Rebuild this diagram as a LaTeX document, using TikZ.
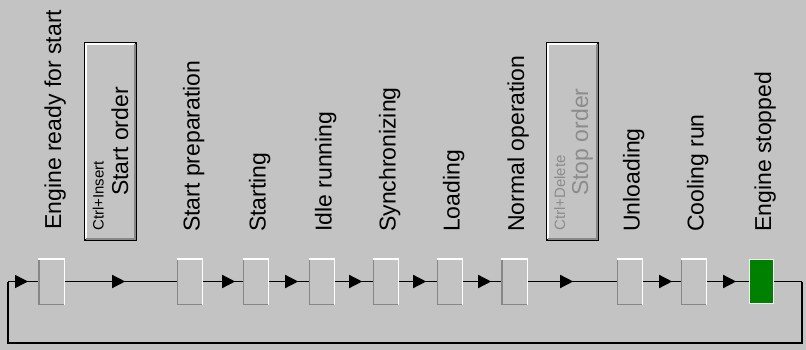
\documentclass[tikz,border=0pt]{standalone}
\usepackage{fontspec}
\setmainfont{Liberation Sans}
\usetikzlibrary{arrows.meta,decorations.markings}
\definecolor{bg}{RGB}{195,195,195}
\definecolor{shade}{RGB}{135,135,135}
\definecolor{dimtext}{RGB}{140,140,140}
\definecolor{run}{RGB}{0,128,0}
\begin{document}
\begin{tikzpicture}[x=1pt,y=-1pt,
  stepbox/.style={minimum width=26pt,minimum height=46pt,inner sep=0pt,fill=bg},
  activebox/.style={minimum width=24pt,minimum height=44pt,inner sep=0pt,fill=run,draw=white!80!bg,line width=1.5pt},
  orderbox/.style={minimum width=51pt,minimum height=197pt,inner sep=0pt,fill=bg,draw=black,line width=1.2pt},
  lightedge/.style={draw=white,line width=1.2pt},
  darkedge/.style={draw=shade,line width=1.2pt},
  lbl/.style={rotate=90,anchor=base west,inner sep=0pt,font=\fontsize{23}{26}\selectfont},
  keylbl/.style={rotate=90,anchor=base west,inner sep=0pt,font=\fontsize{15}{17}\selectfont},
  flow/.style={draw,black,line width=1.4pt},
  arr/.style={postaction={decorate},decoration={markings,mark=at position #1 with {\arrow{Triangle[length=13pt,width=13pt]}}}}
]
\useasboundingbox (0,0) rectangle (806,350);
\fill[bg] (0,0) rectangle (806,350);

% step boxes
\node[stepbox] (s1) at (51.5,281.5) {};
\node[stepbox] (s2) at (190,281.5) {};
\node[stepbox] (s3) at (256,281.5) {};
\node[stepbox] (s4) at (322,281.5) {};
\node[stepbox] (s5) at (386,281.5) {};
\node[stepbox] (s6) at (450,281.5) {};
\node[stepbox] (s7) at (514.5,281.5) {};
\node[stepbox] (s8) at (630,281.5) {};
\node[stepbox] (s9) at (694,281.5) {};
\node[activebox] (s10) at (761.5,281.5) {};
\foreach \b in {s1,s2,s3,s4,s5,s6,s7,s8,s9}{
  \path[darkedge] ([shift={(0.6,0)}]\b.north west) -- ([shift={(0.6,-0.6)}]\b.south west) -- ([shift={(0,-0.6)}]\b.south east);
  \path[lightedge] ([shift={(0,0.6)}]\b.north west) -- ([shift={(-0.6,0.6)}]\b.north east) -- ([shift={(-0.6,0)}]\b.south east);
}

% labels
\node[lbl] (l1) at (61,230) {Engine ready for start};
\node[lbl] (l2) at (199.5,232) {Start preparation};
\node[lbl] (l3) at (265.5,232) {Starting};
\node[lbl] (l4) at (331.5,232) {Idle running};
\node[lbl] (l5) at (395.5,232) {Synchronizing};
\node[lbl] (l6) at (459.5,232) {Loading};
\node[lbl] (l7) at (524,232) {Normal operation};
\node[lbl] (l8) at (639.5,232) {Unloading};
\node[lbl] (l9) at (703.5,232) {Cooling run};
\node[lbl] (l10) at (771,232) {Engine stopped};

% order buttons
\node[orderbox] (startbtn) at (110.5,141.5) {};
\node[orderbox] (stopbtn) at (572.5,141.5) {};
\foreach \b in {startbtn,stopbtn}{
  \path[lightedge] ([shift={(1.6,-1.6)}]\b.south west) -- ([shift={(1.6,1.6)}]\b.north west) -- ([shift={(-1.6,1.6)}]\b.north east);
  \path[darkedge,line width=1.6pt] ([shift={(-1.8,1.6)}]\b.north east) -- ([shift={(-1.8,-1.8)}]\b.south east) -- ([shift={(1.6,-1.8)}]\b.south west);
}
\node[lbl] (starttxt) at (128,196) {Start order};
\node[keylbl] (startkey) at (103.5,231) {Ctrl+Insert};
\node[lbl,text=dimtext] (stoptxt) at (588,196) {Stop order};
\node[keylbl,text=dimtext] (stopkey) at (565,231) {Ctrl+Delete};

% loop coordinates
\coordinate (r) at (802,281.5);
\coordinate (rb) at (802,343);
\coordinate (lb) at (8,343);
\coordinate (l) at (8,281.5);

% connectors
\path[flow] (s10.east) -- (r);
\path[draw,black,line width=1.2pt] (r) -- (rb) -- (lb) -- (l);
\path[flow,arr=20pt] (l) -- (s1.west);
\path[flow,arr=60.5pt] (s1.east) -- (s2.west);
\path[flow,arr=32pt] (s2.east) -- (s3.west);
\path[flow,arr=29pt] (s3.east) -- (s4.west);
\path[flow,arr=27pt] (s4.east) -- (s5.west);
\path[flow,arr=27pt] (s5.east) -- (s6.west);
\path[flow,arr=28pt] (s6.east) -- (s7.west);
\path[flow,arr=45.5pt] (s7.east) -- (s8.west);
\path[flow,arr=29pt] (s8.east) -- (s9.west);
\path[flow,arr=29pt] (s9.east) -- (s10.west);
\end{tikzpicture}
\end{document}
